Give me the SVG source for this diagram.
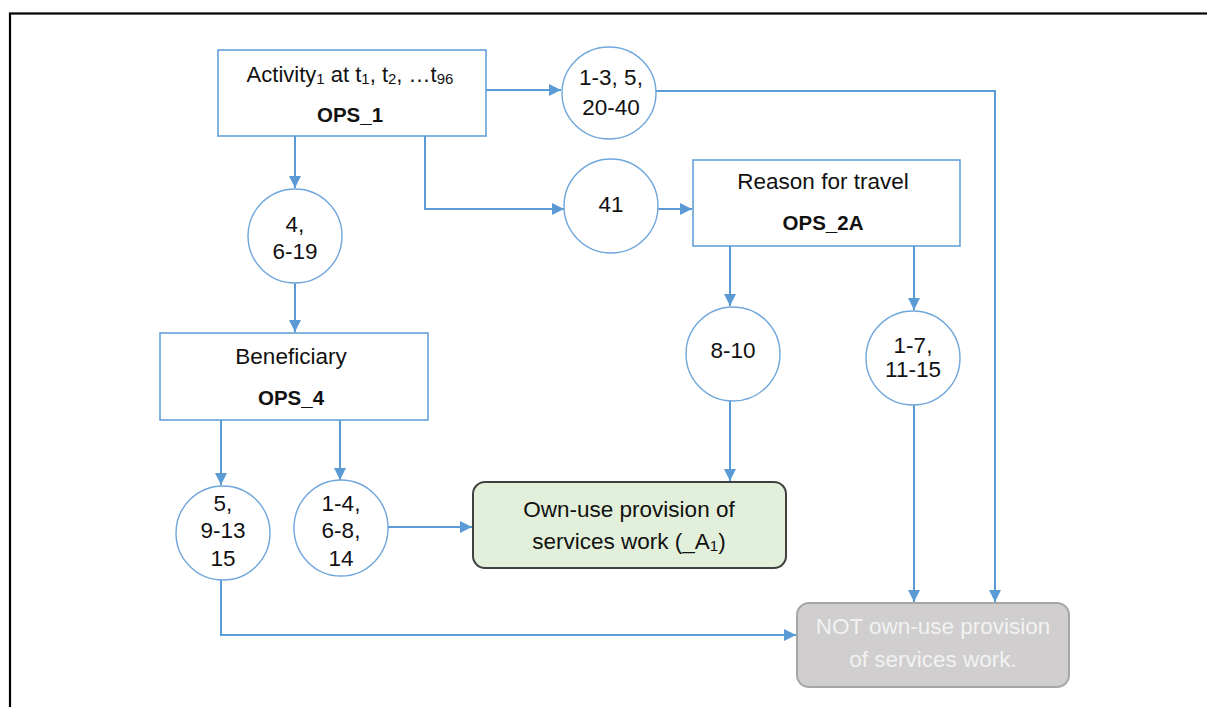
<svg xmlns="http://www.w3.org/2000/svg" width="1207" height="707" viewBox="0 0 1207 707">
<style>
.t{font-family:"Liberation Sans",Arial,sans-serif;font-size:22.5px;fill:#111;text-anchor:middle}
.a{font-size:22px}
.b{font-weight:bold;font-size:20.5px}
.box{fill:#fff;stroke:#5b9bd5;stroke-width:1.5}
.circ{fill:#fff;stroke:#6fa6db;stroke-width:1.4}
.con{fill:none;stroke:#5b9bd5;stroke-width:2}
.sub{font-size:15px}
</style>
<defs>
<marker id="ah" markerUnits="userSpaceOnUse" markerWidth="14" markerHeight="12" refX="12" refY="6" orient="auto">
<path d="M0,0 L12,6 L0,12 z" fill="#5b9bd5"/>
</marker>
</defs>
<rect x="0" y="0" width="1207" height="707" fill="#fff"/>
<rect x="10" y="13.5" width="1220" height="720" fill="none" stroke="#000" stroke-width="2.2"/>

<g id="connectors" class="con">
<path d="M486,90 H561" marker-end="url(#ah)"/>
<path d="M295,136 V188" marker-end="url(#ah)"/>
<path d="M425,136 V209 H564" marker-end="url(#ah)"/>
<path d="M658,209 H692" marker-end="url(#ah)"/>
<path d="M656,91 H995 V602" marker-end="url(#ah)"/>
<path d="M295,283 V332" marker-end="url(#ah)"/>
<path d="M730,246 V306" marker-end="url(#ah)"/>
<path d="M914,246 V310" marker-end="url(#ah)"/>
<path d="M730,401 V481" marker-end="url(#ah)"/>
<path d="M914,405 V602" marker-end="url(#ah)"/>
<path d="M221,420 V485" marker-end="url(#ah)"/>
<path d="M340,420 V480" marker-end="url(#ah)"/>
<path d="M388,527 H472" marker-end="url(#ah)"/>
<path d="M221,580 V635 H796" marker-end="url(#ah)"/>
</g>

<g id="ops1">
<rect class="box" x="218" y="50" width="268" height="86"/>
<text class="t a" x="350" y="82">Activity<tspan class="sub" dy="2">1</tspan><tspan dy="-2"> at t</tspan><tspan class="sub" dy="2">1</tspan><tspan dy="-2">, t</tspan><tspan class="sub" dy="2">2</tspan><tspan dy="-2">, …t</tspan><tspan class="sub" dy="2">96</tspan></text>
<text class="t b" x="350" y="122">OPS_1</text>
</g>

<g id="c1">
<ellipse class="circ" cx="609" cy="93" rx="47" ry="46"/>
<text class="t" x="611" y="85">1-3, 5,</text>
<text class="t" x="611" y="115">20-40</text>
</g>

<g id="c41">
<ellipse class="circ" cx="611" cy="206" rx="47" ry="47"/>
<text class="t" x="611" y="212">41</text>
</g>

<g id="ops2a">
<rect class="box" x="693" y="160" width="267" height="86"/>
<text class="t" x="823" y="189">Reason for travel</text>
<text class="t b" x="823" y="230">OPS_2A</text>
</g>

<g id="c4">
<ellipse class="circ" cx="295" cy="236" rx="47" ry="47"/>
<text class="t" x="295" y="232">4,</text>
<text class="t" x="295" y="259">6-19</text>
</g>

<g id="ops4">
<rect class="box" x="160" y="333" width="268" height="87"/>
<text class="t" x="291" y="364">Beneficiary</text>
<text class="t b" x="291" y="405">OPS_4</text>
</g>

<g id="c810">
<ellipse class="circ" cx="733" cy="354" rx="47" ry="47"/>
<text class="t" x="733" y="358">8-10</text>
</g>

<g id="c17">
<ellipse class="circ" cx="913" cy="358" rx="47" ry="47"/>
<text class="t" x="913" y="353">1-7,</text>
<text class="t" x="913" y="377">11-15</text>
</g>

<g id="c5">
<ellipse class="circ" cx="223" cy="533" rx="47" ry="47"/>
<text class="t" x="223" y="511">5,</text>
<text class="t" x="223" y="538">9-13</text>
<text class="t" x="223" y="566">15</text>
</g>

<g id="c14">
<ellipse class="circ" cx="341" cy="528" rx="47" ry="48"/>
<text class="t" x="341" y="511">1-4,</text>
<text class="t" x="341" y="538">6-8,</text>
<text class="t" x="341" y="566">14</text>
</g>

<g id="ownuse">
<rect x="473" y="482" width="313" height="86" rx="12" fill="#e2efda" stroke="#404040" stroke-width="2"/>
<text class="t" x="629" y="517">Own-use provision of</text>
<text class="t" x="629" y="549">services work (_A<tspan class="sub" dy="2">1</tspan><tspan dy="-2">)</tspan></text>
</g>

<g id="notown">
<rect x="797" y="603" width="272" height="84" rx="12" fill="#d0cece" stroke="#a6a6a6" stroke-width="2"/>
<text class="t" x="933" y="634" style="fill:#f2f2f2">NOT own-use provision</text>
<text class="t" x="933" y="667" style="fill:#f2f2f2">of services work.</text>
</g>
</svg>
